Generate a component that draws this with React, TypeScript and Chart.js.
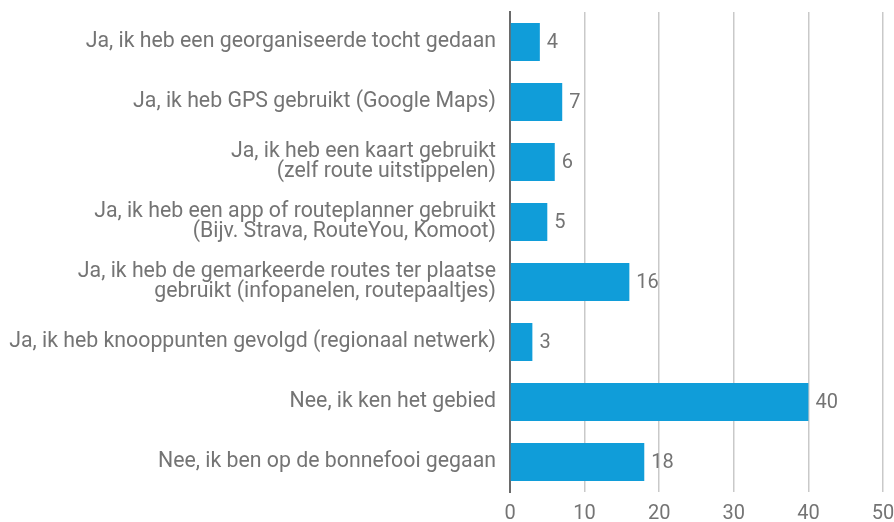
import React, { useEffect, useRef } from "react";
import { Chart, registerables } from "chart.js";

Chart.register(...registerables);

const categories: (string | string[])[] = [
  "Ja, ik heb een georganiseerde tocht gedaan",
  "Ja, ik heb GPS gebruikt (Google Maps)",
  ["Ja, ik heb een kaart gebruikt", "(zelf route uitstippelen)"],
  ["Ja, ik heb een app of routeplanner gebruikt", "(Bijv. Strava, RouteYou, Komoot)"],
  ["Ja, ik heb de gemarkeerde routes ter plaatse", "gebruikt (infopanelen, routepaaltjes)"],
  "Ja, ik heb knooppunten gevolgd (regionaal netwerk)",
  "Nee, ik ken het gebied",
  "Nee, ik ben op de bonnefooi gegaan",
];
const values: number[] = [4, 7, 6, 5, 16, 3, 40, 18];
const xMin = 0;
const xMax = 50;
const xStep = 10;

const FONT = "Roboto, 'DejaVu Sans', sans-serif";
const TEXT = "#747474";
const BAR = "#109dd9";

const valueLabels = {
  id: "valueLabels",
  afterDatasetsDraw(chart: any) {
    const ctx = chart.ctx;
    const meta = chart.getDatasetMeta(0);
    ctx.save();
    ctx.font = `20px ${FONT}`;
    ctx.fillStyle = TEXT;
    ctx.textAlign = "left";
    ctx.textBaseline = "middle";
    meta.data.forEach((el: any, i: number) => {
      ctx.fillText(String(values[i]), el.x + 7, el.y + 1);
    });
    ctx.restore();
  },
};

export default function App() {
  const ref = useRef<HTMLCanvasElement | null>(null);
  useEffect(() => {
    document.body.style.margin = "0";
    if (!ref.current) return;
    const chart = new Chart(ref.current, {
      type: "bar",
      data: {
        labels: categories as any,
        datasets: [
          {
            data: values,
            backgroundColor: BAR,
            borderWidth: 0,
            barPercentage: 0.633,
            categoryPercentage: 1,
          },
        ],
      },
      options: {
        indexAxis: "y",
        responsive: false,
        animation: false,
        layout: { padding: { top: 12, right: 11, left: 0, bottom: 0 } },
        plugins: { legend: { display: false }, tooltip: { enabled: false } },
        scales: {
          x: {
            min: xMin,
            max: xMax,
            ticks: {
              stepSize: xStep,
              color: TEXT,
              font: { family: FONT, size: 20 },
              padding: 10,
            },
            grid: { color: "#c9c9c9", lineWidth: 1.5, drawTicks: false },
            border: { display: false },
            afterFit: (s: any) => {
              s.height = 30;
              s.paddingLeft = 0;
              s.paddingRight = 0;
            },
          },
          y: {
            ticks: {
              color: TEXT,
              font: { family: FONT, size: 21.3, lineHeight: 0.94 },
              padding: 14,
              autoSkip: false,
            },
            grid: { display: false, drawTicks: false },
            border: { display: true, color: "#6a6a6a", width: 2 },
            afterFit: (s: any) => {
              s.width = 510;
              s.paddingTop = 0;
              s.paddingBottom = 0;
            },
          },
        },
      },
      plugins: [valueLabels],
    });
    return () => chart.destroy();
  }, []);
  return (
    <div style={{ width: 894, height: 522, background: "#fff" }}>
      <canvas ref={ref} width={894} height={522} />
    </div>
  );
}
